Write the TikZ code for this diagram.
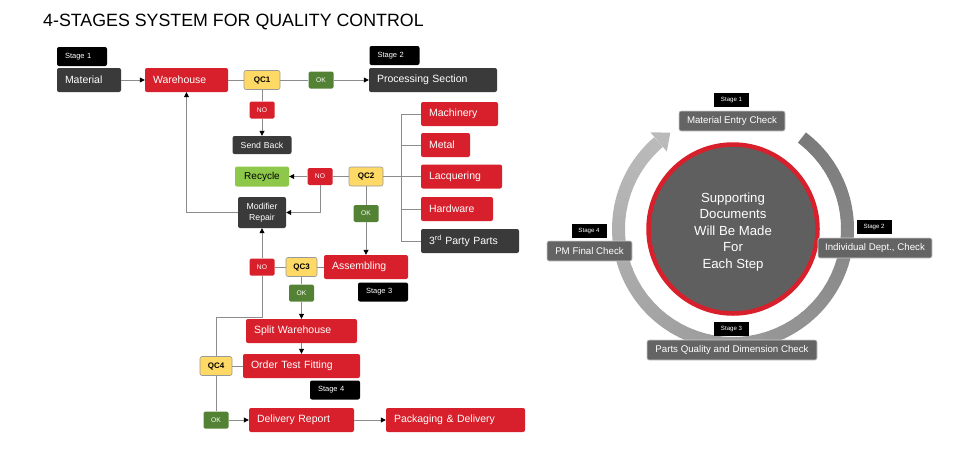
\documentclass[tikz,border=0pt]{standalone}
\usepackage{fontspec}
\setmainfont{Liberation Sans}
\usetikzlibrary{arrows.meta}
\definecolor{qred}{RGB}{215,32,43}
\definecolor{qdark}{RGB}{58,58,58}
\definecolor{qyellow}{RGB}{255,217,102}
\definecolor{qgreen}{RGB}{84,130,53}
\definecolor{qlime}{RGB}{141,200,74}
\definecolor{linegray}{RGB}{140,140,140}
\definecolor{ringdark}{RGB}{95,95,95}
\definecolor{ringfill}{RGB}{100,100,100}
\begin{document}
\begin{tikzpicture}[x=1pt, y=-1pt, >={Triangle[length=5pt, width=5pt, color=black]},
	qbox/.style={rounded corners=2pt, inner xsep=8pt, inner ysep=0pt, text=white, font=\fontsize{10.5}{12}\selectfont, minimum height=24pt, align=left},
	redbox/.style={qbox, fill=qred, text width=#1},
	darkbox/.style={qbox, fill=qdark, text width=#1},
	stagebox/.style={rounded corners=2pt, fill=black, text=white, font=\fontsize{7.5}{9}\selectfont, inner xsep=8pt, inner ysep=0pt, text width=34pt, minimum height=19pt, align=left},
	qcbox/.style={rounded corners=2pt, fill=qyellow, draw=black!40, line width=0.6pt, font=\bfseries\fontsize{8}{9}\selectfont, minimum width=#1, minimum height=19pt, inner sep=0pt},
	okbox/.style={rounded corners=1.5pt, fill=qgreen, text=white, font=\fontsize{6.7}{8}\selectfont, minimum width=25pt, minimum height=17pt, inner sep=0pt},
	nobox/.style={okbox, fill=qred},
	wire/.style={draw=linegray, line width=0.8pt},
	ringbox/.style={rounded corners=2pt, fill=ringfill, draw=black!20, line width=0.6pt, text=white, font=\fontsize{9.7}{11}\selectfont, minimum width=#1, minimum height=20pt, inner sep=0pt},
	ringstage/.style={fill=black, text=white, font=\fontsize{6.1}{7}\selectfont, minimum width=35pt, minimum height=14pt, inner sep=0pt}]
	\useasboundingbox (0,0) rectangle (960,461);
	\node[anchor=base west, inner sep=0pt, font=\fontsize{17.8}{20}\selectfont] (Title) at (43,26) {4-STAGES SYSTEM FOR QUALITY CONTROL};

	\node[stagebox] (Stage_1) at (82,56.5) {Stage 1};
	\node[darkbox=48pt] (Material) at (89,80) {Material};
	\node[redbox=67pt] (Warehouse) at (186.5,80) {Warehouse};
	\node[qcbox=36pt] (QC_1) at (262,80) {QC1};
	\node[okbox] (OK_1) at (321,80) {OK};
	\node[stagebox] (Stage_2) at (394.5,55.5) {Stage 2};
	\node[darkbox=112pt] (Processing) at (433,80) {Processing Section};
	\node[nobox] (NO_1) at (262,110) {NO};
	\node[darkbox=43pt, align=center, font=\fontsize{8.7}{10}\selectfont, minimum height=18pt] (Send_Back) at (262,145) {Send Back};

	\node[redbox=61pt] (Machinery) at (459.5,114) {Machinery};
	\node[redbox=33pt] (Metal) at (445.5,145) {Metal};
	\node[redbox=65pt] (Lacquering) at (461.5,176.5) {Lacquering};
	\node[redbox=56pt] (Hardware) at (457,209) {Hardware};
	\node[darkbox=82pt] (Third_Party) at (470,241) {3\textsuperscript{rd} Party Parts};

	\node[qcbox=34pt] (QC_2) at (366,176.5) {QC2};
	\node[nobox] (NO_2) at (320,176.5) {NO};
	\node[qbox, fill=qlime, text=black, align=center, text width=38pt, font=\fontsize{10}{12}\selectfont, minimum height=20pt] (Recycle) at (262,176.5) {Recycle};
	\node[darkbox=32pt, align=center, font=\fontsize{8.7}{11}\selectfont, minimum height=31pt] (Modifier) at (262,212.5) {Modifier\\Repair};
	\node[okbox] (OK_2) at (366,213.5) {OK};

	\node[redbox=68pt] (Assembling) at (366,267) {Assembling};
	\node[stagebox] (Stage_3) at (383,292) {Stage 3};
	\node[qcbox=31pt] (QC_3) at (301.5,267) {QC3};
	\node[nobox] (NO_3) at (262,267) {NO};
	\node[okbox] (OK_3) at (301.5,293) {OK};
	\node[redbox=95pt] (Split_WH) at (301.5,331) {Split Warehouse};
	\node[redbox=101pt] (Order) at (301.5,366) {Order Test Fitting};
	\node[stagebox] (Stage_4) at (335,390) {Stage 4};
	\node[qcbox=32pt] (QC_4) at (216,366) {QC4};
	\node[okbox] (OK_4) at (216,420) {OK};
	\node[redbox=89pt] (Delivery) at (301.5,420) {Delivery Report};
	\node[redbox=123pt] (Packaging) at (455.5,420) {Packaging \& Delivery};

	\draw[wire, ->] (Material) -- (Warehouse);
	\draw[wire] (Warehouse) -- (QC_1);
	\draw[wire] (QC_1) -- (OK_1);
	\draw[wire, ->] (OK_1) -- (Processing);
	\draw[wire] (QC_1) -- (NO_1);
	\draw[wire, ->] (NO_1) -- (Send_Back);
	\draw[wire] (QC_2) -- (NO_2);
	\draw[wire, ->] (NO_2) -- (Recycle);
	\draw[wire, ->] (NO_2) |- (Modifier);
	\draw[wire, ->] (Modifier) -| (Warehouse);
	\draw[wire] (QC_2) -- (OK_2);
	\draw[wire, ->] (OK_2) -- (Assembling);
	\draw[wire] (QC_2) -- (Lacquering);
	\coordinate (bus) at (401,0);
	\draw[wire] (Machinery.west) -- (Machinery.west -| bus) -- (Third_Party.west -| bus) -- (Third_Party.west);
	\foreach \part in {Metal, Hardware}
		\draw[wire] (\part.west -| bus) -- (\part.west);
	\draw[wire] (Assembling) -- (QC_3);
	\draw[wire] (QC_3) -- (NO_3);
	\draw[wire, ->] (NO_3) -- (Modifier);
	\coordinate (turn) at (0,317);
	\draw[wire] (NO_3.south) -- (NO_3.south |- turn) -| (QC_4.north);
	\draw[wire] (QC_3) -- (OK_3);
	\draw[wire, ->] (OK_3) -- (Split_WH);
	\draw[wire, ->] (Split_WH) -- (Order);
	\draw[wire] (Order) -- (QC_4);
	\draw[wire] (QC_4) -- (OK_4);
	\draw[wire, ->] (OK_4) -- (Delivery);
	\draw[wire, ->] (Delivery) -- (Packaging);

	\begin{scope}[shift={(733,229)}]
		\foreach \i in {0,...,59} {
			\pgfmathsetmacro\a{53-4.7*\i}
			\pgfmathsetmacro\b{\a-5.1}
			\pgfmathsetmacro\tone{52-25*\i/59}
			\draw[line width=13pt, draw=black!\tone] (\a:114.5pt) arc[start angle=\a, end angle=\b, radius=114.5pt];
		}
		\fill[black!27] (130.5:127pt) -- (123:115pt) -- (130.5:102pt) -- cycle;
	\end{scope}
	\node[circle, minimum size=169pt, fill=ringdark, draw=qred, line width=4.5pt, inner sep=0pt] (Docs) at (733,229) {};
	\node[text=white, align=center, font=\fontsize{13.2}{16.5}\selectfont, inner sep=0pt] (Docs_Text) at (733,232) {Supporting\\Documents\\Will Be Made\\For\\Each Step};
	\node[ringstage] (Stage_R1) at (731.5,100) {Stage 1};
	\node[ringbox=106pt] (Entry_Check) at (732,121) {Material Entry Check};
	\node[ringstage] (Stage_R2) at (874,226.5) {Stage 2};
	\node[ringbox=114pt] (Dept_Check) at (875,248) {Individual Dept., Check};
	\node[ringstage] (Stage_R4) at (589,230.5) {Stage 4};
	\node[ringbox=85pt] (Final_Check) at (589.5,251) {PM Final Check};
	\node[ringstage] (Stage_R3) at (731.5,329) {Stage 3};
	\node[ringbox=170pt] (Parts_Check) at (732,350) {Parts Quality and Dimension Check};
\end{tikzpicture}
\end{document}
